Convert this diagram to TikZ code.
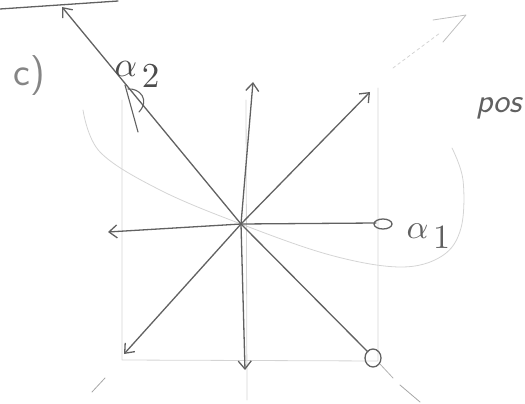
\documentclass[tikz,border=0pt]{standalone}
\usetikzlibrary{arrows.meta}
\begin{document}
\begin{tikzpicture}[x=1pt,y=-1pt, line cap=round, line join=round,
  dark/.style={draw=black!62, line width=1.3pt},
  faint/.style={draw=black!17, line width=0.8pt},
  barb/.style={-{Straight Barb[length=8pt,width=13pt,line width=1.3pt]}},
  lbl/.style={text=black!62, inner sep=0pt}]
\useasboundingbox (0,0) rectangle (525,404);
% points
\coordinate (O) at (241,224);
\coordinate (U) at (253,82);
\coordinate (UR) at (370,92);
\coordinate (R) at (376,223);
\coordinate (DR) at (368,352);
\coordinate (D) at (245,370);
\coordinate (DL) at (124,354);
\coordinate (L) at (108,232);
\coordinate (UL) at (62,7);
% faint construction lines
\draw[faint] (122,100) -- (122,360) -- (378,361) -- (378,88);
\draw[faint] (246,100) -- (247,400);
\draw[faint] plot[smooth, tension=0.6] coordinates {(83,110) (100,152) (160,190) (O) (330,255) (400,267) (442,256) (461,228) (463,180) (452,148)};
\draw[faint, dashed] (393,68) -- (440,33);
\draw[faint, draw=black!25] (433,20) -- (466,15) -- (443,42);
\draw[faint, draw=black!30] (380,364) -- (393,378);
\draw[faint, draw=black!35] (92,392) -- (105,378);
\draw[faint, draw=black!35] (400,385) -- (420,402);
% top-left stroke
\draw[dark] (0,9) -- (118,1);
% arrows
\draw[dark, barb] (O) -- (U);
\draw[dark, barb] (O) -- (UR);
\draw[dark, barb] (O) -- (DL);
\draw[dark, barb] (O) -- (D);
\draw[dark, barb] (O) -- (L);
\draw[dark, barb] (O) -- (UL);
\draw[dark] (O) -- (R);
\draw[dark] (383,224) ellipse (9 and 5);
\draw[dark] (O) -- (DR);
\draw[dark] (373,358) ellipse (8 and 9);
% hook near alpha2
\draw[dark, line width=1.1pt] (125,85) -- (138,132);
\draw[dark, line width=1.1pt] (128,89) .. controls (140,88) and (150,100) .. (139,112);
% labels
\node[lbl, text=black!48, font=\fontsize{40}{42}\selectfont] (c) at (29,76) {\textsf{c)}};
\node[lbl, text=black!70, scale=3.5, anchor=base west] (a2) at (114,77) {$\alpha_{\,\textstyle 2}$};
\node[lbl, scale=3.4, anchor=base west] (a1) at (406,238) {$\alpha_{\,\textstyle 1}$};
\node[lbl, font=\fontsize{34}{36}\selectfont, anchor=west] (pos) at (476,108) {\textsf{\textit{pos}}};
\end{tikzpicture}
\end{document}
